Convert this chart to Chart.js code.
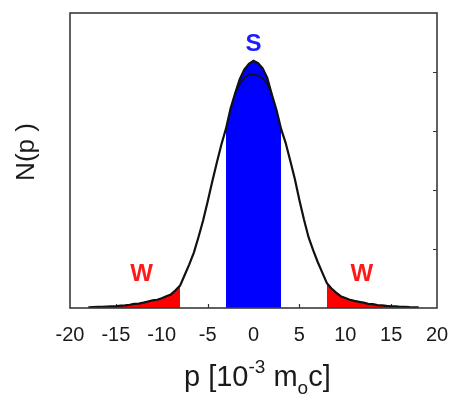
<!DOCTYPE html>
<html>
<head>
<meta charset="utf-8">
<script src="https://cdn.jsdelivr.net/npm/chart.js@4.4.1/dist/chart.umd.min.js"></script>
<style>
  html, body { margin: 0; padding: 0; background: #fff; }
  #wrap { width: 450px; height: 398px; }
</style>
</head>
<body>
<div id="wrap"><canvas id="dist" width="450" height="398"></canvas></div>
<script>
// momentum distribution N(p), p in units of 1e-3 m0c
const pValues = [
  -18, -17.5, -17, -16.5, -16, -15.5, -15, -14.5, -14, -13.5, -13, -12.5,
  -12, -11.5, -11, -10.5, -10, -9.5, -9, -8.5, -8, -7.5, -7, -6.5,
  -6, -5.5, -5, -4.5, -4, -3.5, -3, -2.5, -2, -1.5, -1, -0.5,
  0, 0.5, 1, 1.5, 2, 2.5, 3, 3.5, 4, 4.5, 5, 5.5,
  6, 6.5, 7, 7.5, 8, 8.5, 9, 9.5, 10, 10.5, 11, 11.5,
  12, 12.5, 13, 13.5, 14, 14.5, 15, 15.5, 16, 16.5, 17, 17.5, 18
];
const nValues = [
  0.01, 0.015, 0.02, 0.018, 0.025, 0.03, 0.028, 0.04, 0.045, 0.055, 0.07, 0.075,
  0.09, 0.11, 0.13, 0.14, 0.165, 0.2, 0.23, 0.3, 0.38, 0.56, 0.74, 0.94,
  1.2, 1.48, 1.8, 2.14, 2.46, 2.77, 3.04, 3.38, 3.64, 3.88, 4.04, 4.14,
  4.19, 4.15, 4.06, 3.9, 3.62, 3.36, 3.04, 2.8, 2.5, 2.19, 1.83, 1.5,
  1.2, 0.98, 0.78, 0.6, 0.42, 0.33, 0.26, 0.2, 0.17, 0.14, 0.12, 0.105,
  0.09, 0.07, 0.065, 0.05, 0.045, 0.035, 0.03, 0.03, 0.02, 0.02, 0.015, 0.012, 0.01
];

// second (lower) curve near the maximum
const pInner = [-2, -1.5, -1, -0.5, 0, 0.5, 1, 1.5, 2];
const nInner = [3.64, 3.80, 3.90, 3.95, 3.96, 3.94, 3.89, 3.80, 3.62];

// strong band |p| <= 3, weak tails |p| >= 8
const strongEdge = 3;
const weakEdge = 8;

const xTicks = [-20, -15, -10, -5, 0, 5, 10, 15, 20];
const yTicks = [0, 1, 2, 3, 4, 5];

const curve = pValues.map((p, i) => ({ x: p, y: nValues[i] }));
const inner = pInner.map((p, i) => ({ x: p, y: nInner[i] }));
const strong = curve.filter(d => Math.abs(d.x) <= strongEdge);
const weakLeft = curve.filter(d => d.x <= -weakEdge);
const weakRight = curve.filter(d => d.x >= weakEdge);

const FONT = "'Liberation Sans', Arial, sans-serif";

const decor = {
  id: 'decor',
  beforeDatasetsDraw(chart) {
    const { ctx, chartArea: a, scales: { x, y } } = chart;
    ctx.save();
    ctx.strokeStyle = '#333';
    ctx.lineWidth = 1.2;
    ctx.beginPath();
    xTicks.slice(1, -1).forEach(v => {
      const px = Math.round(x.getPixelForValue(v)) + 0.5;
      ctx.moveTo(px, a.bottom);
      ctx.lineTo(px, a.bottom - 4);
    });
    yTicks.slice(1, -1).forEach(v => {
      const py = Math.round(y.getPixelForValue(v)) + 0.5;
      ctx.moveTo(a.right, py);
      ctx.lineTo(a.right - 4, py);
    });
    ctx.stroke();
    ctx.restore();
  },
  afterDraw(chart) {
    const { ctx, chartArea: a, scales: { x, y } } = chart;
    ctx.save();

    // box
    ctx.strokeStyle = '#3a3a3a';
    ctx.lineWidth = 1.6;
    ctx.strokeRect(a.left, a.top, a.right - a.left, a.bottom - a.top);

    // region labels
    ctx.font = 'bold 24px ' + FONT;
    ctx.textAlign = 'center';
    ctx.textBaseline = 'middle';
    ctx.fillStyle = '#1c1cff';
    ctx.fillText('S', x.getPixelForValue(0), y.getPixelForValue(4.46));
    ctx.fillStyle = '#ff1a1a';
    ctx.fillText('W', x.getPixelForValue(-12.2), y.getPixelForValue(0.57));
    ctx.fillText('W', x.getPixelForValue(11.8), y.getPixelForValue(0.57));

    // x axis title: p [10^-3 m_0 c]
    ctx.fillStyle = '#1a1a1a';
    ctx.textAlign = 'left';
    ctx.textBaseline = 'alphabetic';
    const big = '29px ' + FONT, small = '19px ' + FONT;
    const parts = [
      ['p [10', big, 386],
      ['-3', small, 373],
      [' m', big, 386],
      ['o', small, 394],
      ['c]', big, 386]
    ];
    let tx = 184;
    parts.forEach(([t, f, by]) => {
      ctx.font = f;
      ctx.fillText(t, tx, by);
      tx += ctx.measureText(t).width;
    });

    // y axis title
    ctx.translate(34, 152);
    ctx.rotate(-Math.PI / 2);
    ctx.font = '26px ' + FONT;
    ctx.textAlign = 'center';
    ctx.fillText('N(p )', 0, 0);
    ctx.restore();
  }
};

new Chart(document.getElementById('dist'), {
  type: 'line',
  data: {
    datasets: [
      { data: curve, borderColor: '#111', borderWidth: 2.2, pointRadius: 0, fill: false, tension: 0 },
      { data: inner, borderColor: '#111', borderWidth: 1.6, pointRadius: 0, fill: false, tension: 0 },
      { data: strong, borderWidth: 0, pointRadius: 0, backgroundColor: '#0000ff', fill: 'origin', tension: 0 },
      { data: weakLeft, borderWidth: 0, pointRadius: 0, backgroundColor: '#ff0000', fill: 'origin', tension: 0 },
      { data: weakRight, borderWidth: 0, pointRadius: 0, backgroundColor: '#ff0000', fill: 'origin', tension: 0 }
    ]
  },
  options: {
    responsive: false,
    devicePixelRatio: 1,
    animation: false,
    layout: { padding: { left: 70, right: 13, top: 13, bottom: 0 } },
    plugins: { legend: { display: false }, tooltip: { enabled: false } },
    scales: {
      x: {
        type: 'linear',
        min: -20,
        max: 20,
        afterBuildTicks: s => { s.ticks = xTicks.map(v => ({ value: v })); },
        afterFit: s => { s.height = 90; s.paddingLeft = 0; s.paddingRight = 0; },
        grid: { display: false },
        border: { display: false },
        ticks: { color: '#1a1a1a', font: { family: FONT, size: 20 }, padding: 7, maxRotation: 0 }
      },
      y: {
        display: false,
        min: 0,
        max: 5
      }
    }
  },
  plugins: [decor]
});
</script>
</body>
</html>
